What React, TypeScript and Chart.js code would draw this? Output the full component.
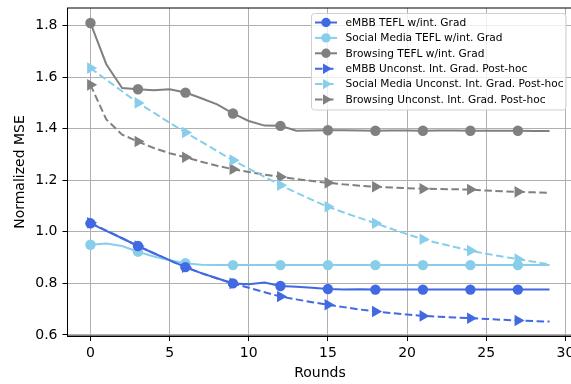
import React, { useEffect, useRef } from "react";
import { Chart, registerables } from "chart.js";

Chart.register(...registerables);

const rounds = [0, 1, 2, 3, 4, 5, 6, 7, 8, 9, 10, 11, 12, 13, 14, 15, 16, 17, 18, 19, 20, 21, 22, 23, 24, 25, 26, 27, 28, 29];

const embbTefl = [1.033, 1.004, 0.975, 0.945, 0.917, 0.89, 0.863, 0.84, 0.82, 0.8, 0.797, 0.803, 0.79, 0.787, 0.783, 0.778, 0.776, 0.777, 0.776, 0.776, 0.776, 0.776, 0.776, 0.776, 0.776, 0.776, 0.776, 0.776, 0.776, 0.776];
const socialTefl = [0.95, 0.955, 0.945, 0.923, 0.904, 0.89, 0.878, 0.872, 0.871, 0.871, 0.871, 0.871, 0.871, 0.871, 0.871, 0.871, 0.871, 0.871, 0.871, 0.871, 0.871, 0.871, 0.871, 0.871, 0.871, 0.871, 0.871, 0.871, 0.871, 0.871];
const browsingTefl = [1.81, 1.65, 1.558, 1.553, 1.549, 1.553, 1.54, 1.518, 1.494, 1.459, 1.43, 1.412, 1.411, 1.392, 1.393, 1.394, 1.394, 1.393, 1.392, 1.393, 1.393, 1.392, 1.393, 1.393, 1.392, 1.392, 1.392, 1.392, 1.391, 1.391];
const embbPost = [1.035, 1.005, 0.975, 0.945, 0.917, 0.889, 0.863, 0.84, 0.819, 0.8, 0.783, 0.766, 0.749, 0.738, 0.727, 0.717, 0.708, 0.699, 0.691, 0.685, 0.679, 0.674, 0.671, 0.668, 0.665, 0.662, 0.659, 0.656, 0.654, 0.652];
const socialPost = [1.635, 1.59, 1.545, 1.5, 1.462, 1.423, 1.385, 1.35, 1.313, 1.278, 1.245, 1.213, 1.181, 1.152, 1.124, 1.097, 1.075, 1.054, 1.033, 1.012, 0.991, 0.971, 0.956, 0.941, 0.927, 0.915, 0.904, 0.894, 0.884, 0.874];
const browsingPost = [1.57, 1.436, 1.377, 1.35, 1.325, 1.305, 1.289, 1.272, 1.256, 1.243, 1.232, 1.222, 1.213, 1.205, 1.197, 1.19, 1.184, 1.179, 1.175, 1.172, 1.169, 1.167, 1.166, 1.165, 1.164, 1.16, 1.157, 1.155, 1.153, 1.151];

const seriesLabels = [
  "eMBB TEFL w/int. Grad",
  "Social Media TEFL w/int. Grad",
  "Browsing TEFL w/int. Grad",
  "eMBB Unconst. Int. Grad. Post-hoc",
  "Social Media Unconst. Int. Grad. Post-hoc",
  "Browsing Unconst. Int. Grad. Post-hoc",
];
const seriesData = [embbTefl, socialTefl, browsingTefl, embbPost, socialPost, browsingPost];
const seriesColors = ["#4169E1", "#87CEEB", "#808080", "#4169E1", "#87CEEB", "#808080"];
const seriesDashed = [false, false, false, true, true, true];

const xTicks = [0, 5, 10, 15, 20, 25, 30];
const yTicks = [0.6, 0.8, 1.0, 1.2, 1.4, 1.6, 1.8];

const FONT = "'DejaVu Sans', sans-serif";
const DASH = [7.5, 3.5];

const framePlugin = {
  id: "frameLegend",
  afterDatasetsDraw(chart: any) {
    const { ctx, chartArea: a } = chart;
    ctx.save();
    ctx.strokeStyle = "#000";
    ctx.lineWidth = 1;
    ctx.strokeRect(a.left, a.top, a.right - a.left, a.bottom - a.top);
    ctx.restore();
  },
  afterDraw(chart: any) {
    const { ctx } = chart;
    const bx = 311.5, by = 13.5, bw = 254.5, bh = 96.5, r = 3;
    ctx.save();
    ctx.beginPath();
    ctx.moveTo(bx + r, by);
    ctx.lineTo(bx + bw - r, by);
    ctx.quadraticCurveTo(bx + bw, by, bx + bw, by + r);
    ctx.lineTo(bx + bw, by + bh - r);
    ctx.quadraticCurveTo(bx + bw, by + bh, bx + bw - r, by + bh);
    ctx.lineTo(bx + r, by + bh);
    ctx.quadraticCurveTo(bx, by + bh, bx, by + bh - r);
    ctx.lineTo(bx, by + r);
    ctx.quadraticCurveTo(bx, by, bx + r, by);
    ctx.closePath();
    ctx.fillStyle = "rgba(255,255,255,0.8)";
    ctx.fill();
    ctx.strokeStyle = "#d0d0d0";
    ctx.lineWidth = 1;
    ctx.stroke();

    const y0 = 22.5, step = 15.4;
    ctx.font = `10.6px ${FONT}`;
    ctx.textBaseline = "middle";
    ctx.textAlign = "left";
    seriesLabels.forEach((lab, i) => {
      const y = y0 + i * step;
      ctx.strokeStyle = seriesColors[i];
      ctx.fillStyle = seriesColors[i];
      ctx.lineWidth = 2;
      ctx.setLineDash(seriesDashed[i] ? DASH : []);
      ctx.beginPath();
      ctx.moveTo(315, y);
      ctx.lineTo(337, y);
      ctx.stroke();
      ctx.setLineDash([]);
      ctx.beginPath();
      if (seriesDashed[i]) {
        const rr = 6;
        ctx.moveTo(326 + rr, y);
        ctx.lineTo(326 - rr * 0.5, y - rr * 0.866);
        ctx.lineTo(326 - rr * 0.5, y + rr * 0.866);
      } else {
        ctx.arc(326, y, 4.7, 0, Math.PI * 2);
      }
      ctx.closePath();
      ctx.fill();
      ctx.fillStyle = "#000";
      ctx.fillText(lab, 345.5, y + 0.5);
    });
    ctx.restore();
  },
};

export default function App() {
  const ref = useRef<HTMLCanvasElement | null>(null);
  useEffect(() => {
    document.body.style.margin = "0";
    document.body.style.overflow = "hidden";
    const canvas = ref.current!;
    const datasets = seriesData.map((d, i) => ({
      label: seriesLabels[i],
      data: d,
      borderColor: seriesColors[i],
      backgroundColor: seriesColors[i],
      borderWidth: 2,
      borderDash: seriesDashed[i] ? DASH : [],
      pointStyle: seriesDashed[i] ? "triangle" : "circle",
      pointRotation: seriesDashed[i] ? 90 : 0,
      pointRadius: d.map((_, k) => (k % 3 === 0 ? (seriesDashed[i] ? 6.7 : 5.2) : 0)),
      pointHoverRadius: d.map((_, k) => (k % 3 === 0 ? (seriesDashed[i] ? 6.7 : 5.2) : 0)),
      pointBorderWidth: 0,
      pointBackgroundColor: seriesColors[i],
      tension: 0,
      fill: false,
      clip: false as any,
    }));
    const zeroPad = (s: any) => {
      s.paddingTop = 0;
      s.paddingBottom = 0;
      s.paddingLeft = 0;
      s.paddingRight = 0;
    };
    const chart = new Chart(canvas, {
      type: "line",
      data: { labels: rounds, datasets },
      options: {
        animation: false,
        responsive: false,
        devicePixelRatio: 1,
        events: [],
        layout: { padding: { top: 8, right: 27.5, left: 0, bottom: 0 } },
        plugins: { legend: { display: false }, tooltip: { enabled: false } },
        scales: {
          x: {
            type: "linear",
            min: -1.45,
            max: 30.45,
            afterFit: (s: any) => { s.height = 48; zeroPad(s); },
            afterBuildTicks: (s: any) => { s.ticks = xTicks.map((v) => ({ value: v })); },
            ticks: {
              font: { family: FONT, size: 14 },
              color: "#000",
              padding: 4,
              maxRotation: 0,
              callback: (v: any) => String(v),
            },
            grid: { color: "#b0b0b0", lineWidth: 1, tickColor: "#000", tickLength: 5, drawTicks: true },
            border: { display: true, color: "#000", width: 1 },
            title: {
              display: true,
              text: "Rounds",
              font: { family: FONT, size: 14 },
              color: "#000",
              padding: { top: 0, bottom: 2.6 },
            },
          },
          y: {
            type: "linear",
            min: 0.596,
            max: 1.868,
            afterFit: (s: any) => { s.width = 67.5; zeroPad(s); },
            afterBuildTicks: (s: any) => { s.ticks = yTicks.map((v) => ({ value: v })); },
            ticks: {
              font: { family: FONT, size: 14 },
              color: "#000",
              padding: 5,
              callback: (v: any) => Number(v).toFixed(1),
            },
            grid: { color: "#b0b0b0", lineWidth: 1, tickColor: "#000", tickLength: 5, drawTicks: true },
            border: { display: true, color: "#000", width: 1 },
            title: {
              display: true,
              text: "Normalized MSE",
              font: { family: FONT, size: 14 },
              color: "#000",
              padding: { top: 11.6, bottom: 0 },
            },
          },
        },
      },
      plugins: [framePlugin],
    });
    return () => chart.destroy();
  }, []);
  return (
    <div style={{ position: "absolute", left: 0, top: 0, width: 571, height: 384, overflow: "hidden", background: "#fff" }}>
      <canvas ref={ref} width={600} height={384} style={{ width: 600, height: 384, display: "block" }} />
    </div>
  );
}
